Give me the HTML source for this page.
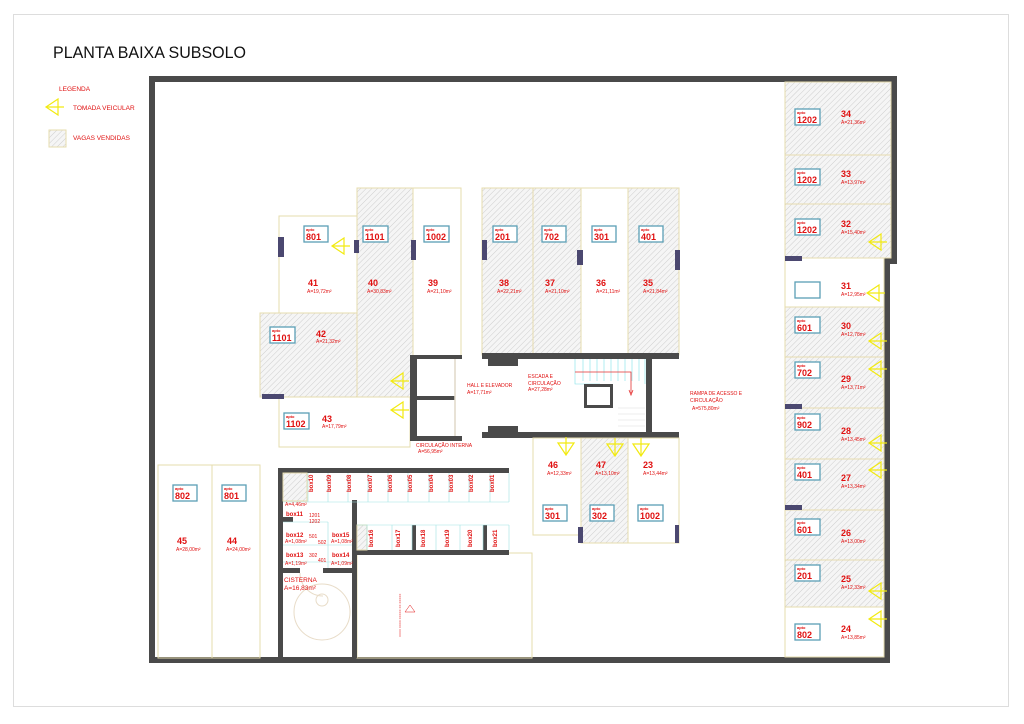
<!DOCTYPE html>
<html><head><meta charset="utf-8"><style>
html,body{margin:0;padding:0;background:#fff}
svg{display:block}
text{font-family:"Liberation Sans",sans-serif}
.n{fill:#e01010;font-weight:bold;font-size:9px}
.a{fill:#e01010;font-size:5px}
.l{fill:#e01010;font-size:6.5px}
.ab{fill:#fff;stroke:#5b9fb5;stroke-width:1.3}
.at{fill:#e01010;font-weight:bold;font-size:4px}
.an{fill:#e01010;font-weight:bold;font-size:9px}
.sp{fill:none;stroke:#e6dcae;stroke-width:1}
.h{fill:url(#hat);stroke:#e6dcae;stroke-width:1}
.w{fill:#4a4a4a}
.m{fill:#4b4870}
.y{fill:none;stroke:#f2ea10;stroke-width:1.2}
.bx{fill:#e01010;font-weight:bold;font-size:6px}
.bc{fill:none;stroke:#9fe3e3;stroke-width:.6}
</style></head><body>
<svg width="1024" height="724" viewBox="0 0 1024 724" xmlns="http://www.w3.org/2000/svg">
<defs>
<pattern id="hat" width="4" height="4" patternUnits="userSpaceOnUse" patternTransform="rotate(45)">
<rect width="4" height="4" fill="#f5f5f5"/><line x1="0" y1="0" x2="0" y2="4" stroke="#c4c4c4" stroke-width="0.8"/>
</pattern>
<g id="arL"><path class="y" d="M0,0 L12,-8 L12,8 Z M0,0 H18 M12,-8 V8" transform="translate(-9,0)"/></g>
<g id="arD"><path class="y" d="M0,0 L-8,-12 L8,-12 Z M0,0 V-18 M-8,-12 H8" transform="translate(0,9)"/></g>
</defs>
<rect x="13.5" y="14.5" width="995" height="692" fill="none" stroke="#ddd"/>
<text x="53" y="58" font-size="16.5" fill="#111" textLength="193" lengthAdjust="spacingAndGlyphs">PLANTA BAIXA SUBSOLO</text>
<text x="59" y="91" class="l">LEGENDA</text>
<use href="#arL" x="55" y="107"/>
<text x="73" y="110" class="l">TOMADA VEICULAR</text>
<rect x="49" y="130" width="17" height="17" class="h" stroke="#ccc"/>
<text x="73" y="140" class="l">VAGAS VENDIDAS</text>

<path d="M149,663 V76 H897 V264 H890 V663 Z M155,657 H884 V258 H891 V82 H155 Z" fill="#4a4a4a" fill-rule="evenodd"/>

<rect x="279" y="216" width="78" height="97" class="sp"/>
<rect x="357" y="188" width="56" height="209" class="h"/>
<rect x="413" y="188" width="48" height="168" class="sp"/>
<rect x="260" y="313" width="97" height="84" class="h"/>
<rect x="279" y="397" width="131" height="50" class="sp"/>
<rect x="482" y="188" width="51" height="167" class="h"/>
<rect x="533" y="188" width="48" height="167" class="h"/>
<rect x="581" y="188" width="47" height="167" class="sp"/>
<rect x="628" y="188" width="51" height="167" class="h"/>

<rect x="410" y="355" width="7" height="86" class="w"/>
<rect x="410" y="355" width="52" height="4" class="w"/>
<rect x="410" y="436" width="52" height="5" class="w"/>
<rect x="417" y="396" width="38" height="4" class="w"/>
<line x1="455" y1="359" x2="455" y2="436" stroke="#e0d8c8" stroke-width="1.5"/>
<rect x="482" y="353" width="197" height="6" class="w"/>
<rect x="482" y="432" width="197" height="6" class="w"/>
<rect x="488" y="359" width="30" height="7" class="w"/>
<rect x="488" y="426" width="30" height="6" class="w"/>
<rect x="646" y="359" width="6" height="73" class="w"/>
<g stroke="#7fe0e8" stroke-width=".6" fill="none">
<path d="M575,359 V384 H600 M645,359 V384"/>
<path d="M583,359V381M590,359V381M597,359V381M604,359V381M611,359V381M618,359V381M625,359V381M632,359V381M639,359V381"/>
</g>
<g stroke="#ddd" stroke-width=".6"><path d="M618,408H645M618,414H645M618,420H645M618,426H645"/></g>
<rect x="585.5" y="385.5" width="26" height="21" fill="none" stroke="#4a4a4a" stroke-width="3"/>
<path d="M575,372 H631 V393" fill="none" stroke="#e53030" stroke-width=".8"/>
<path d="M629,390 L631,395 L633,390" fill="none" stroke="#e53030" stroke-width=".8"/>

<rect x="533" y="438" width="48" height="97" class="sp"/>
<rect x="581" y="438" width="47" height="105" class="h"/>
<rect x="628" y="438" width="51" height="105" class="sp"/>
<rect x="578" y="527" width="5" height="16" class="m"/>
<rect x="675" y="525" width="4" height="18" class="m"/>

<rect x="785" y="82" width="106" height="73" class="h"/>
<rect x="785" y="155" width="106" height="49" class="h"/>
<rect x="785" y="204" width="106" height="54" class="h"/>
<rect x="785" y="258" width="99" height="49" class="sp"/>
<rect x="785" y="307" width="99" height="50" class="h"/>
<rect x="785" y="357" width="99" height="51" class="h"/>
<rect x="785" y="408" width="99" height="51" class="h"/>
<rect x="785" y="459" width="99" height="51" class="h"/>
<rect x="785" y="510" width="99" height="50" class="h"/>
<rect x="785" y="560" width="99" height="47" class="h"/>
<rect x="785" y="607" width="99" height="50" class="sp"/>

<rect x="158" y="465" width="54" height="193" class="sp"/>
<rect x="212" y="465" width="48" height="193" class="sp"/>

<rect x="357" y="553" width="175" height="105" class="sp"/>
<rect x="278" y="468" width="231" height="5" class="w"/>
<rect x="278" y="468" width="5" height="190" class="w"/>
<rect x="355" y="550" width="154" height="5" class="w"/>
<rect x="352" y="500" width="5" height="158" class="w"/>
<rect x="283" y="568" width="17" height="5" class="w"/>
<rect x="323" y="568" width="29" height="5" class="w"/>
<rect x="283" y="517" width="10" height="5" class="w"/>
<rect x="412" y="525" width="4" height="25" class="w"/>
<rect x="483" y="525" width="4" height="25" class="w"/>
<rect x="283" y="473" width="24" height="28" class="h" stroke="none"/>
<rect x="357" y="525" width="10" height="25" class="h" stroke="none"/>
<g class="bc">
<path d="M308,473V502M328,473V502M348,473V502M368,473V502M388,473V502M408,473V502M429,473V502M449,473V502M469,473V502M490,473V502M509,473V502M283,502H509"/>
<path d="M357,525H509M367,525V550M392,525V550M412,525V550M436,525V550M460,525V550M483,525V550M509,525V550"/>
<path d="M283,522H328M283,545H328M283,562H352M328,522V568M328,545H352"/>
</g>
<g font-size="6" class="bx">
<text transform="translate(313,492) rotate(-90)">box10</text>
<text transform="translate(331,492) rotate(-90)">box09</text>
<text transform="translate(351,492) rotate(-90)">box08</text>
<text transform="translate(372,492) rotate(-90)">box07</text>
<text transform="translate(392,492) rotate(-90)">box06</text>
<text transform="translate(412,492) rotate(-90)">box05</text>
<text transform="translate(433,492) rotate(-90)">box04</text>
<text transform="translate(453,492) rotate(-90)">box03</text>
<text transform="translate(473,492) rotate(-90)">box02</text>
<text transform="translate(494,492) rotate(-90)">box01</text>
<text transform="translate(373,547) rotate(-90)">box16</text>
<text transform="translate(400,547) rotate(-90)">box17</text>
<text transform="translate(425,547) rotate(-90)">box18</text>
<text transform="translate(449,547) rotate(-90)">box19</text>
<text transform="translate(472,547) rotate(-90)">box20</text>
<text transform="translate(497,547) rotate(-90)">box21</text>
<text x="286" y="516">box11</text>
<text x="286" y="537">box12</text>
<text x="286" y="557">box13</text>
<text x="332" y="537">box15</text>
<text x="332" y="557">box14</text>
</g>
<g class="a" font-size="4">
<text x="285" y="506">A=4,46m²</text><text x="285" y="543">A=1,08m²</text><text x="285" y="565">A=1,19m²</text>
<text x="331" y="543">A=1,08m²</text><text x="331" y="565">A=1,09m²</text>
<text x="309" y="517">1201</text><text x="309" y="523">1202</text><text x="309" y="538">501</text><text x="318" y="544">502</text><text x="309" y="557">302</text><text x="318" y="562">401</text>
</g>
<circle cx="322" cy="612" r="28" fill="none" stroke="#e8dcc8"/>
<circle cx="322" cy="600" r="6" fill="none" stroke="#e8dcc8"/>
<path d="M300,573 A23,23 0 0 0 323,596" fill="none" stroke="#e8dcc8"/>
<text x="284" y="582" class="l">CISTERNA</text>
<text x="284" y="590" class="l">A=16,83m²</text>
<text transform="translate(401,637) rotate(-90)" font-size="3" fill="#e01010">XXXX XXXX XXXXX XX XXXXX</text>
<path d="M405,612 L410,605 L415,612 Z" fill="none" stroke="#e01010" stroke-width=".5"/>

<rect x="278" y="237" width="6" height="20" class="m"/>
<rect x="354" y="240" width="5" height="13" class="m"/>
<rect x="411" y="240" width="5" height="20" class="m"/>
<rect x="482" y="240" width="5" height="20" class="m"/>
<rect x="577" y="250" width="6" height="15" class="m"/>
<rect x="675" y="250" width="5" height="20" class="m"/>
<rect x="262" y="394" width="22" height="5" class="m"/>
<rect x="785" y="256" width="17" height="5" class="m"/>
<rect x="785" y="404" width="17" height="5" class="m"/>
<rect x="785" y="505" width="17" height="5" class="m"/>
<rect x="212" y="78" width="8" height="4" class="w"/><rect x="270" y="78" width="8" height="4" class="w"/>
<rect x="410" y="78" width="8" height="4" class="w"/><rect x="483" y="78" width="8" height="4" class="w"/>
<rect x="581" y="78" width="8" height="4" class="w"/><rect x="711" y="78" width="8" height="4" class="w"/>

<use href="#arL" x="341" y="246"/><use href="#arL" x="400" y="381"/><use href="#arL" x="400" y="410"/>
<use href="#arL" x="878" y="242"/><use href="#arL" x="876" y="293"/><use href="#arL" x="878" y="341"/>
<use href="#arL" x="878" y="369"/><use href="#arL" x="878" y="443"/><use href="#arL" x="878" y="470"/>
<use href="#arL" x="878" y="591"/><use href="#arL" x="878" y="619"/>
<use href="#arD" x="566" y="446"/><use href="#arD" x="615" y="447"/><use href="#arD" x="641" y="447"/>

<g>
<rect x="304" y="226" width="24" height="16" class="ab"/><text x="306" y="231" class="at">apto</text><text x="306" y="240" class="an">801</text>
<rect x="363" y="226" width="25" height="16" class="ab"/><text x="365" y="231" class="at">apto</text><text x="365" y="240" class="an">1101</text>
<rect x="424" y="226" width="25" height="16" class="ab"/><text x="426" y="231" class="at">apto</text><text x="426" y="240" class="an">1002</text>
<rect x="270" y="327" width="25" height="16" class="ab"/><text x="272" y="332" class="at">apto</text><text x="272" y="341" class="an">1101</text>
<rect x="284" y="413" width="25" height="16" class="ab"/><text x="286" y="418" class="at">apto</text><text x="286" y="427" class="an">1102</text>
<rect x="493" y="226" width="24" height="16" class="ab"/><text x="495" y="231" class="at">apto</text><text x="495" y="240" class="an">201</text>
<rect x="542" y="226" width="24" height="16" class="ab"/><text x="544" y="231" class="at">apto</text><text x="544" y="240" class="an">702</text>
<rect x="592" y="226" width="24" height="16" class="ab"/><text x="594" y="231" class="at">apto</text><text x="594" y="240" class="an">301</text>
<rect x="639" y="226" width="24" height="16" class="ab"/><text x="641" y="231" class="at">apto</text><text x="641" y="240" class="an">401</text>
<rect x="543" y="505" width="24" height="16" class="ab"/><text x="545" y="510" class="at">apto</text><text x="545" y="519" class="an">301</text>
<rect x="590" y="505" width="24" height="16" class="ab"/><text x="592" y="510" class="at">apto</text><text x="592" y="519" class="an">302</text>
<rect x="638" y="505" width="25" height="16" class="ab"/><text x="640" y="510" class="at">apto</text><text x="640" y="519" class="an">1002</text>
<rect x="173" y="485" width="24" height="16" class="ab"/><text x="175" y="490" class="at">apto</text><text x="175" y="499" class="an">802</text>
<rect x="222" y="485" width="24" height="16" class="ab"/><text x="224" y="490" class="at">apto</text><text x="224" y="499" class="an">801</text>
<rect x="795" y="109" width="25" height="16" class="ab"/><text x="797" y="114" class="at">apto</text><text x="797" y="123" class="an">1202</text>
<rect x="795" y="169" width="25" height="16" class="ab"/><text x="797" y="174" class="at">apto</text><text x="797" y="183" class="an">1202</text>
<rect x="795" y="219" width="25" height="16" class="ab"/><text x="797" y="224" class="at">apto</text><text x="797" y="233" class="an">1202</text>
<rect x="795" y="282" width="25" height="16" class="ab"/>
<rect x="795" y="317" width="25" height="16" class="ab"/><text x="797" y="322" class="at">apto</text><text x="797" y="331" class="an">601</text>
<rect x="795" y="362" width="25" height="16" class="ab"/><text x="797" y="367" class="at">apto</text><text x="797" y="376" class="an">702</text>
<rect x="795" y="414" width="25" height="16" class="ab"/><text x="797" y="419" class="at">apto</text><text x="797" y="428" class="an">902</text>
<rect x="795" y="464" width="25" height="16" class="ab"/><text x="797" y="469" class="at">apto</text><text x="797" y="478" class="an">401</text>
<rect x="795" y="519" width="25" height="16" class="ab"/><text x="797" y="524" class="at">apto</text><text x="797" y="533" class="an">601</text>
<rect x="795" y="565" width="25" height="16" class="ab"/><text x="797" y="570" class="at">apto</text><text x="797" y="579" class="an">201</text>
<rect x="795" y="624" width="25" height="16" class="ab"/><text x="797" y="629" class="at">apto</text><text x="797" y="638" class="an">802</text>
</g>

<g class="n">
<text x="308" y="286">41</text><text x="368" y="286">40</text><text x="428" y="286">39</text>
<text x="316" y="337">42</text><text x="322" y="422">43</text>
<text x="499" y="286">38</text><text x="545" y="286">37</text><text x="596" y="286">36</text><text x="643" y="286">35</text>
<text x="548" y="468">46</text><text x="596" y="468">47</text><text x="643" y="468">23</text>
<text x="177" y="544">45</text><text x="227" y="544">44</text>
<text x="841" y="117">34</text><text x="841" y="177">33</text><text x="841" y="227">32</text><text x="841" y="289">31</text>
<text x="841" y="329">30</text><text x="841" y="382">29</text><text x="841" y="434">28</text><text x="841" y="481">27</text>
<text x="841" y="536">26</text><text x="841" y="582">25</text><text x="841" y="632">24</text>
</g>
<g class="a">
<text x="307" y="293">A=19,72m²</text><text x="367" y="293">A=30,83m²</text><text x="427" y="293">A=21,10m²</text>
<text x="316" y="343">A=21,32m²</text><text x="322" y="428">A=17,79m²</text>
<text x="497" y="293">A=22,21m²</text><text x="545" y="293">A=21,10m²</text><text x="596" y="293">A=21,11m²</text><text x="643" y="293">A=21,84m²</text>
<text x="547" y="475">A=12,33m²</text><text x="595" y="475">A=13,10m²</text><text x="643" y="475">A=13,44m²</text>
<text x="176" y="551">A=28,00m²</text><text x="226" y="551">A=24,00m²</text>
<text x="841" y="124">A=21,36m²</text><text x="841" y="184">A=13,97m²</text><text x="841" y="234">A=15,40m²</text><text x="841" y="296">A=12,95m²</text>
<text x="841" y="336">A=12,78m²</text><text x="841" y="389">A=13,71m²</text><text x="841" y="441">A=13,45m²</text><text x="841" y="488">A=13,34m²</text>
<text x="841" y="543">A=13,00m²</text><text x="841" y="589">A=12,33m²</text><text x="841" y="639">A=13,85m²</text>
</g>
<g class="a" font-size="5.5">
<text x="467" y="387">HALL E ELEVADOR</text><text x="467" y="394">A=17,71m²</text>
<text x="528" y="378">ESCADA E</text><text x="528" y="385">CIRCULAÇÃO</text><text x="528" y="391">A=27,28m²</text>
<text x="690" y="395">RAMPA DE ACESSO E</text><text x="690" y="402">CIRCULAÇÃO</text><text x="692" y="410">A=575,80m²</text>
<text x="416" y="447">CIRCULAÇÃO INTERNA</text><text x="418" y="453">A=56,95m²</text>
</g>
</svg>
</body></html>
